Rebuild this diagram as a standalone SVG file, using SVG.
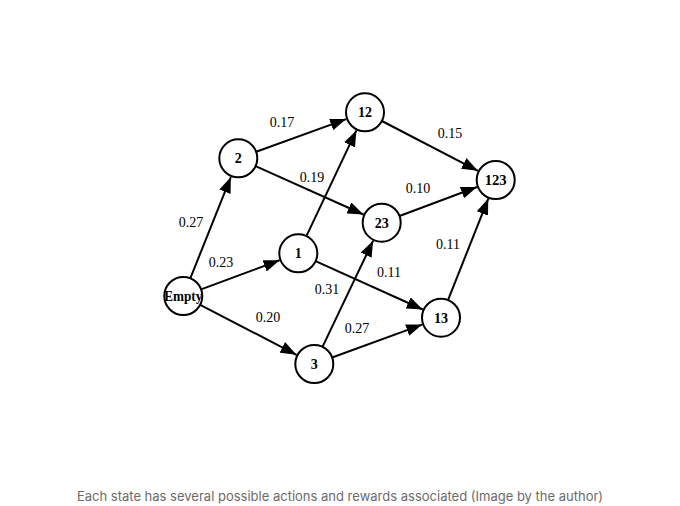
<svg xmlns="http://www.w3.org/2000/svg" width="680" height="506" viewBox="0 0 680 506">
<defs>
<marker id="ah" markerWidth="16" markerHeight="12" refX="16" refY="6" orient="auto" markerUnits="userSpaceOnUse">
<path d="M0,0 L16,6 L0,12 z" fill="#000"/>
</marker>
<style>
.n circle{fill:#fff;stroke:#000;stroke-width:2}
.n text{font-family:"Liberation Serif","Times New Roman",serif;font-weight:bold;font-size:14px;text-anchor:middle;fill:#000}
.e line{stroke:#000;stroke-width:2;marker-end:url(#ah)}
.l text{font-family:"Liberation Serif","Times New Roman",serif;font-size:14px;text-anchor:middle;fill:#000}
.cap{font-family:Inter,"Liberation Sans",sans-serif;font-size:13px;fill:#6b6b6b;text-anchor:middle}
</style>
</defs>
<rect width="680" height="506" fill="#fff"/>
<g id="connectors" class="e">
<line x1="190.3" y1="278.4" x2="230.9" y2="176.9"/>
<line x1="201.1" y1="289.4" x2="279.6" y2="260.3"/>
<line x1="200.2" y1="304.8" x2="296.5" y2="354.8"/>
<line x1="256.2" y1="151.8" x2="346.2" y2="119.1"/>
<line x1="255.6" y1="166.1" x2="363.5" y2="214.5"/>
<line x1="306.4" y1="236.1" x2="356.4" y2="130.4"/>
<line x1="315.6" y1="261.1" x2="422.8" y2="309.5"/>
<line x1="322.5" y1="346.9" x2="373.1" y2="240.7"/>
<line x1="332.1" y1="357.5" x2="422.2" y2="324.6"/>
<line x1="381.9" y1="121.0" x2="477.9" y2="170.8"/>
<line x1="399.5" y1="216.0" x2="477.0" y2="187.0"/>
<line x1="448.0" y1="300.1" x2="488.3" y2="198.6"/>
</g>
<g id="labels" class="l">
<text x="282" y="127">0.17</text>
<text x="312" y="182">0.19</text>
<text x="191" y="227">0.27</text>
<text x="221" y="267">0.23</text>
<text x="268" y="322">0.20</text>
<text x="327" y="294">0.31</text>
<text x="357" y="333">0.27</text>
<text x="389" y="277">0.11</text>
<text x="450" y="138">0.15</text>
<text x="418" y="193">0.10</text>
<text x="448" y="249">0.11</text>
</g>
<g id="node-empty" class="n"><circle cx="183.3" cy="296" r="19"/><text x="183.3" y="300.5" textLength="38" lengthAdjust="spacingAndGlyphs">Empty</text></g>
<g id="node-1" class="n"><circle cx="298.3" cy="253.3" r="19"/><text x="298.3" y="258">1</text></g>
<g id="node-2" class="n"><circle cx="238.3" cy="158.3" r="19"/><text x="238.3" y="163">2</text></g>
<g id="node-3" class="n"><circle cx="314.3" cy="364" r="19"/><text x="314.3" y="369">3</text></g>
<g id="node-12" class="n"><circle cx="365" cy="112.3" r="19"/><text x="365" y="117">12</text></g>
<g id="node-23" class="n"><circle cx="381.7" cy="222.7" r="19"/><text x="381.7" y="227.5">23</text></g>
<g id="node-13" class="n"><circle cx="441" cy="317.7" r="19"/><text x="441" y="322.5">13</text></g>
<g id="node-123" class="n"><circle cx="495.7" cy="180" r="19"/><text x="495.7" y="185" textLength="22" lengthAdjust="spacingAndGlyphs">123</text></g>
<text class="cap" x="340" y="501">Each state has several possible actions and rewards associated (Image by the author)</text>
</svg>
